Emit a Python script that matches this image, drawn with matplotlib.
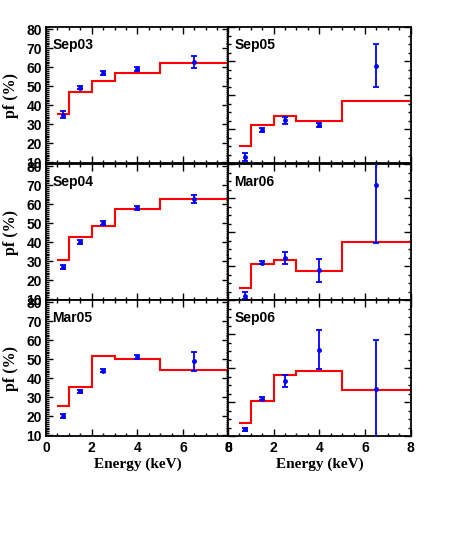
import matplotlib
matplotlib.use('Agg')
import matplotlib.pyplot as plt
from matplotlib.ticker import MultipleLocator

# bins of the red model (keV) and energies of the measured points
edges = [0.5, 1, 2, 3, 5, 8]
energy = [0.75, 1.5, 2.5, 4.0, 6.5]

# left column (scale 10-80)
sep03_pf = [35, 49.3, 57, 59, 62.8]
sep03_err = [2, 1, 1, 1, 3.2]
sep03_model = [35.5, 47.1, 52.8, 57.1, 62.2]

sep04_pf = [27, 40, 50, 58, 62.9]
sep04_err = [1, 1, 1, 1, 2]
sep04_model = [30.5, 42.6, 48.8, 57.6, 62.6]

mar05_pf = [20, 33, 44, 51, 49]
mar05_err = [1, 1, 1, 1, 5]
mar05_model = [25.1, 35.4, 51.9, 50.1, 44.4]

# right column (own scale 0-80, no labels)
sep05_pf = [3.7, 19.5, 25.2, 22.8, 57.3]
sep05_err = [2.2, 1.2, 2.3, 1.2, 12.7]
sep05_model = [10.4, 22.4, 28.1, 24.8, 36.7]

mar06_pf = [2.9, 22.2, 24.8, 17.7, 67.9]
mar06_err = [2.2, 0.9, 3.6, 6.8, 34]
mar06_model = [7.6, 21.1, 23.8, 17.1, 34.5]

sep06_pf = [4.1, 22.2, 32.6, 50.9, 27.9]
sep06_err = [0.9, 0.9, 3.4, 11.5, 28.9]
sep06_model = [7.8, 20.7, 35.9, 38.2, 27.5]

panels = [
    ('Sep03', sep03_pf, sep03_err, sep03_model, 0, 0),
    ('Sep05', sep05_pf, sep05_err, sep05_model, 0, 1),
    ('Sep04', sep04_pf, sep04_err, sep04_model, 1, 0),
    ('Mar06', mar06_pf, mar06_err, mar06_model, 1, 1),
    ('Mar05', mar05_pf, mar05_err, mar05_model, 2, 0),
    ('Sep06', sep06_pf, sep06_err, sep06_model, 2, 1),
]

fig = plt.figure(figsize=(4.57, 5.48), dpi=100)

lefts = [0.1007, 0.4989]
width = 0.3997
tops = [0.9507, 0.7007, 0.4526]
height = 0.2490

for name, pf, err, model, row, col in panels:
    ax = fig.add_axes([lefts[col], tops[row] - height, width, height])
    ax.stairs(model, edges, baseline=None, color='red', lw=1.5, zorder=2)
    ax.errorbar(energy, pf, yerr=err, fmt='o', color='blue', ms=2.5,
                elinewidth=1.3, capsize=2.5, capthick=1.3, zorder=3)
    ax.set_xlim(0, 8)
    ax.xaxis.set_major_locator(MultipleLocator(2))
    ax.xaxis.set_minor_locator(MultipleLocator(0.5))
    if col == 0:
        ax.set_ylim(9.3, 81.2)
        ax.yaxis.set_major_locator(MultipleLocator(10))
        ax.yaxis.set_minor_locator(MultipleLocator(1))
        ax.set_ylabel('pf (%)', fontsize=11.5, fontweight='bold',
                      family='Liberation Serif', labelpad=5)
    else:
        ax.set_ylim(0, 80)
        ax.yaxis.set_major_locator(MultipleLocator(20))
        ax.yaxis.set_minor_locator(MultipleLocator(5))
        ax.tick_params(labelleft=False)
    ax.tick_params(which='both', direction='in', top=True, right=True, width=1)
    ax.tick_params(which='major', length=5, labelsize=10, pad=3)
    ax.tick_params(which='minor', length=2.5)
    for lab in ax.get_xticklabels() + ax.get_yticklabels():
        lab.set_fontweight('bold')
        lab.set_family('Liberation Sans')
    if row == 2:
        ax.set_xlabel('Energy (keV)', fontsize=11, fontweight='bold',
                      family='Liberation Serif', labelpad=2)
    else:
        ax.tick_params(labelbottom=False)
    for sp in ax.spines.values():
        sp.set_linewidth(1.3)
    ax.text(0.035, 0.87, name, transform=ax.transAxes, fontsize=10,
            fontweight='bold', family='Liberation Sans', va='center', ha='left')

plt.savefig('out.png', dpi=100)
plt.close()
